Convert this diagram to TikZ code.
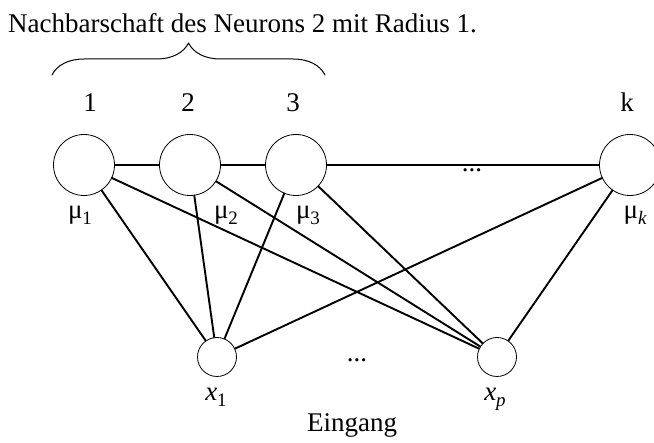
\documentclass[tikz,border=0pt]{standalone}
\usepackage{fontspec}
\setmainfont{Liberation Serif}
\usetikzlibrary{decorations.pathreplacing}
\newcommand{\idx}[1]{\raisebox{-6pt}{\fontsize{19}{20}\selectfont #1}}
\begin{document}
\begin{tikzpicture}[x=1pt, y=-1pt, font=\fontsize{27}{31}\selectfont, line join=round, line cap=round,
    neuron/.style={circle, draw, line width=0.8pt, minimum size=61pt, inner sep=0pt},
    eingabe/.style={circle, draw, line width=0.8pt, minimum size=39pt, inner sep=0pt},
    verbindung/.style={line width=1.9pt}]
    \useasboundingbox (0,0) rectangle (654,443);
    % Neuronen der Karte
    \foreach \n/\x in {m1/84, m2/190, m3/296, mk/630} \node[neuron] (\n) at (\x,165) {};
    % Eingabeneuronen
    \node[eingabe] (x1) at (217,357) {};
    \node[eingabe] (xp) at (497,357) {};
    \draw[verbindung] (m1)--(m2)--(m3)--(mk);
    \foreach \m in {m1,m2,m3,mk} \draw[verbindung] (\m)--(x1) (\m)--(xp);
    % Beschriftungen
    \node[anchor=base west, inner sep=0pt] (titel) at (8,33) {Nachbarschaft des Neurons 2 mit Radius 1.};
    \foreach \t/\x in {1/90, 2/188, 3/293, k/627} \node[anchor=base, inner sep=0pt] (nr\t) at (\x,112) {\t};
    \foreach \t/\x/\s in {1/80/1, 2/226/2, 3/308/3, k/635/\itshape k} \node[anchor=base, inner sep=0pt] (lm\t) at (\x,219) {μ\idx{\s}};
    \node[anchor=base, inner sep=0pt] (lx1) at (216,401) {\itshape x\idx{\upshape 1}};
    \node[anchor=base, inner sep=0pt] (lxp) at (495,401) {\itshape x\idx{p}};
    \node[anchor=base, inner sep=0pt] (eingang) at (352,432) {Eingang};
    \node[anchor=base, inner sep=0pt] (punkte1) at (472,172) {...};
    \node[anchor=base, inner sep=0pt] (punkte2) at (357,362) {...};
    % Klammer
    \coordinate (kl) at (52,75);
    \coordinate (kr) at (325,75);
    \draw[decorate, decoration={brace, amplitude=32pt}, line width=1pt] (kl)--(kr);
\end{tikzpicture}
\end{document}
